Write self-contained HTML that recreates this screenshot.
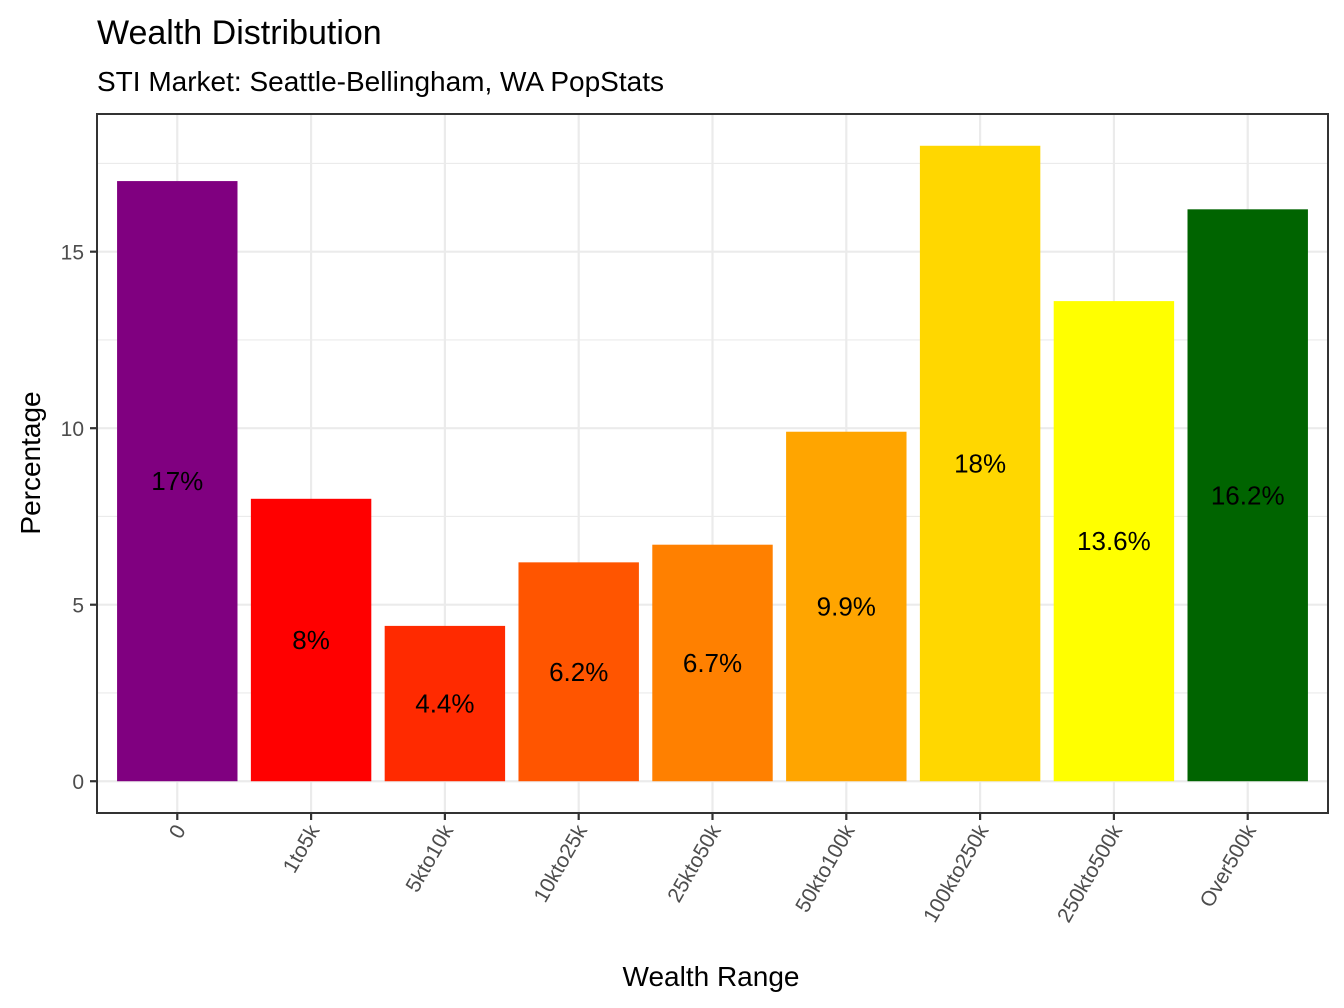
<!DOCTYPE html>
<html><head><meta charset="utf-8"><style>
html,body{margin:0;padding:0;background:#fff;}
svg{display:block;font-family:"Liberation Sans",Arial,sans-serif;}
</style></head><body>
<svg id="chart" width="1344" height="1008" xmlns="http://www.w3.org/2000/svg">
<text x="97" y="44" font-size="34" fill="#000">Wealth Distribution</text>
<text x="97" y="91" font-size="28" fill="#000">STI Market: Seattle-Bellingham, WA PopStats</text>
<g id="grid"></g>
<g id="bars"></g>
<g id="labels"></g>
<rect x="97" y="114" width="1231" height="699" fill="none" stroke="#333" stroke-width="2"/>
<g id="axes"></g>
<text x="711" y="986" font-size="28" text-anchor="middle" fill="#000">Wealth Range</text>
<text transform="translate(40,463) rotate(-90)" font-size="28" text-anchor="middle" fill="#000">Percentage</text>
</svg>
<script>
const categories = ["0","1to5k","5kto10k","10kto25k","25kto50k","50kto100k","100kto250k","250kto500k","Over500k"];
const values = [17, 8, 4.4, 6.2, 6.7, 9.9, 18, 13.6, 16.2];
const labels = ["17%","8%","4.4%","6.2%","6.7%","9.9%","18%","13.6%","16.2%"];
const colors = ["#800080","#FF0000","#FF2A00","#FF5500","#FF8000","#FFA500","#FFD700","#FFFF00","#006400"];
const yTicks = [0, 5, 10, 15];

const NS = "http://www.w3.org/2000/svg";
const L = 97, R = 1328, T = 114, B = 813;
const yMin = -0.9, yMax = 18.9;
function ys(v){ return B - (v - yMin) / (yMax - yMin) * (B - T); }
const band = (R - L) / (categories.length + 0.2);
function xs(i){ return L + band * (0.6 + i); }
function mk(tag, attrs, parent){ const e = document.createElementNS(NS, tag); for (const k in attrs) e.setAttribute(k, attrs[k]); parent.appendChild(e); return e; }

const grid = document.getElementById('grid');
const bars = document.getElementById('bars');
const lab = document.getElementById('labels');
const axes = document.getElementById('axes');

for (let t = 0; t <= 17.5; t += 2.5) {
  const g = mk('line', {x1:L, x2:R, y1:ys(t), y2:ys(t), stroke:'#ebebeb', 'stroke-width': (t % 5 === 0) ? 2.2 : 1.1}, grid);
  
  
}
categories.forEach((c, i) => {
  const g = mk('line', {x1:xs(i), x2:xs(i), y1:T, y2:B, stroke:'#ebebeb', 'stroke-width':2.2}, grid);
  
  
});

categories.forEach((c, i) => {
  const w = band * 0.9;
  const r = mk('rect', {x:xs(i) - w/2, y:ys(values[i]), width:w, height:ys(0) - ys(values[i]), fill:colors[i]}, bars);
  
  
  const t = mk('text', {x:xs(i), y:ys(values[i]/2) + 9, 'font-size':26, 'text-anchor':'middle', fill:'#000'}, lab);
  t.textContent = labels[i];
  
  

  const tk = mk('line', {x1:xs(i), x2:xs(i), y1:B, y2:B + 7, stroke:'#333', 'stroke-width':2.2}, axes);
  
  
  const tl = mk('text', {transform:'translate(' + (xs(i) + 9) + ',' + (B + 17) + ') rotate(-60)', 'font-size':21, 'text-anchor':'end', fill:'#4d4d4d'}, axes);
  tl.textContent = c;
  
  
});

yTicks.forEach(v => {
  const tk = mk('line', {x1:L - 7, x2:L, y1:ys(v), y2:ys(v), stroke:'#333', 'stroke-width':2.2}, axes);
  
  
  const tl = mk('text', {x:L - 13, y:ys(v) + 8, 'font-size':21, 'text-anchor':'end', fill:'#4d4d4d'}, axes);
  tl.textContent = String(v);
  
  
});
</script>
</body></html>
